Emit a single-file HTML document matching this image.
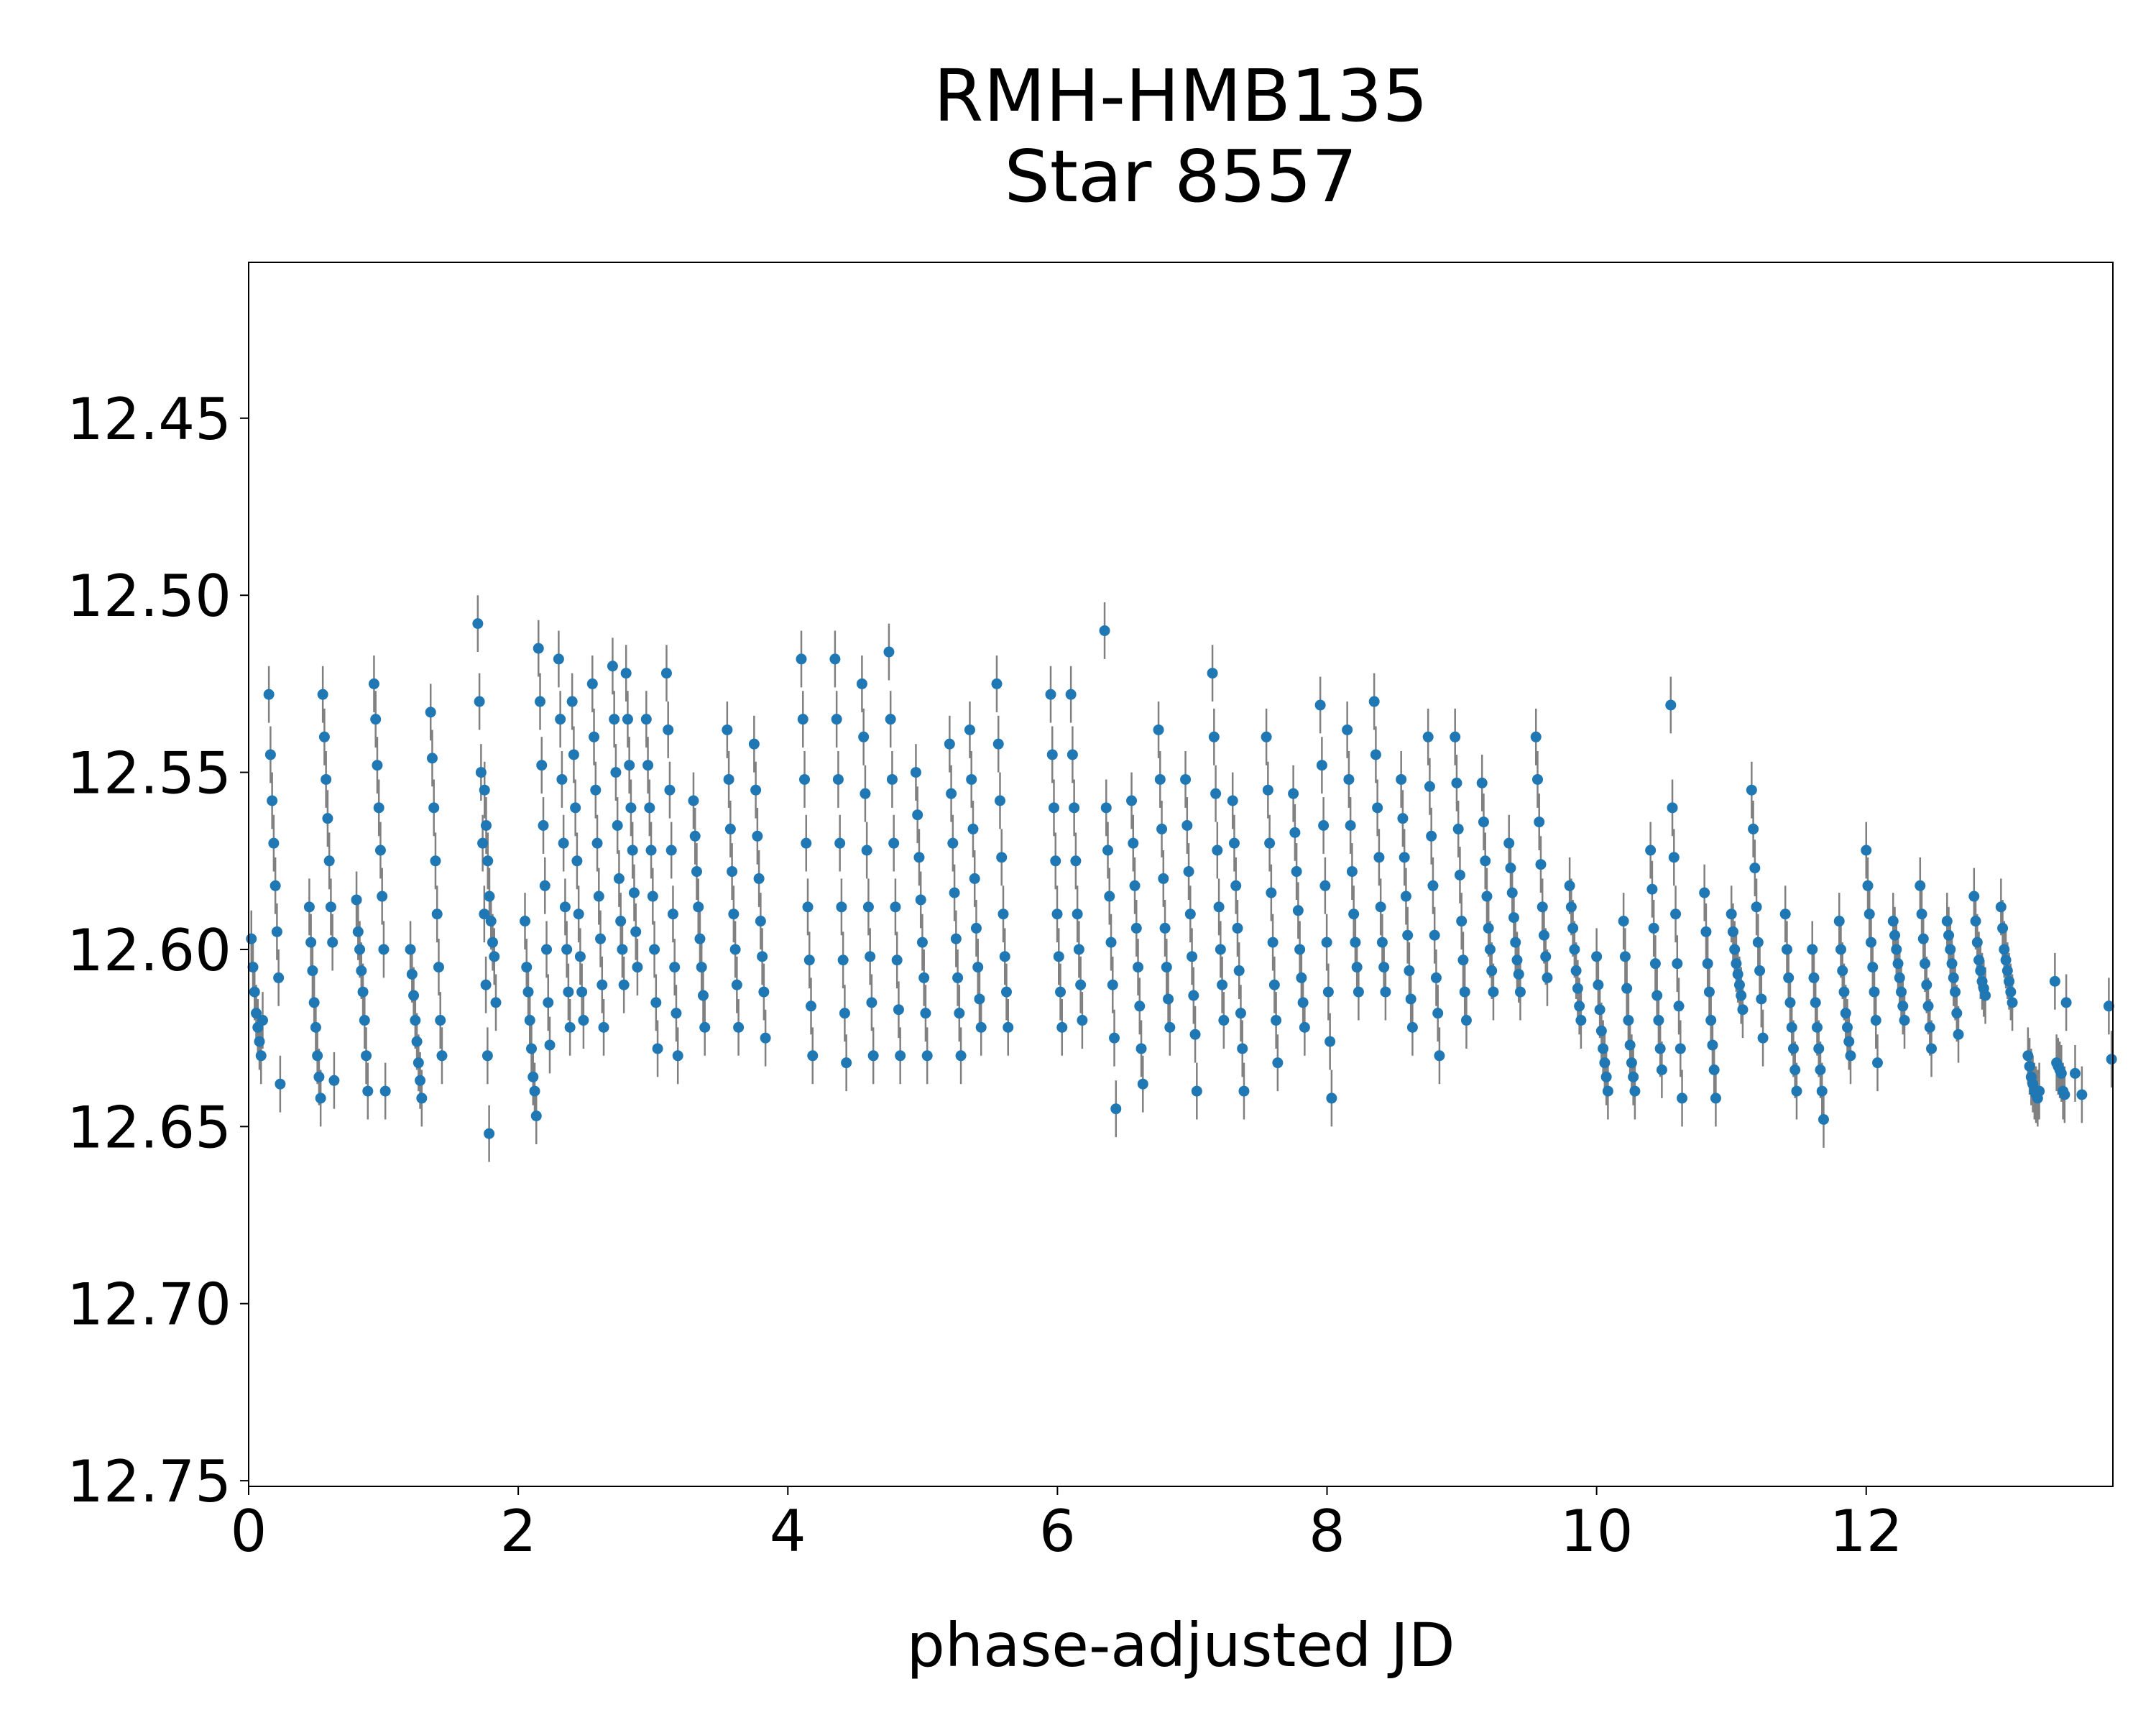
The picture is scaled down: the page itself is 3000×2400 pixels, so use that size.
<!DOCTYPE html>
<html><head><meta charset="utf-8"><style>
html,body{margin:0;padding:0;background:#fff;}
svg{display:block;font-family:"DejaVu Sans","Liberation Sans",sans-serif;}
</style></head><body>
<svg id="chart" width="3000" height="2400" viewBox="0 0 3000 2400">
<text x="1643" y="168" font-size="100" text-anchor="middle">RMH-HMB135</text>
<text x="1643" y="280" font-size="100" text-anchor="middle">Star 8557</text>
<g id="marks"></g>
<rect x="346" y="365" width="2594" height="1703" fill="none" stroke="#000" stroke-width="2"/>
<g id="xticks"></g>
<g id="yticks"></g>
<text x="1643" y="2318" font-size="84" text-anchor="middle">phase-adjusted JD</text>
</svg>
<script>
const xTicks=[0,2,4,6,8,10,12];
const yTicks=[12.45,12.50,12.55,12.60,12.65,12.70,12.75];
const yTickLabels=["12.45","12.50","12.55","12.60","12.65","12.70","12.75"];
const streakX=[0.02,0.15,0.45,0.55,0.8,0.93,1.2,1.35,1.7,1.75,2.05,2.15,2.3,2.4,2.55,2.7,2.8,2.95,3.1,3.3,3.55,3.75,4.1,4.35,4.55,4.75,4.95,5.2,5.35,5.55,5.95,6.1,6.35,6.55,6.75,6.95,7.15,7.3,7.55,7.75,7.95,8.15,8.35,8.55,8.75,8.95,9.15,9.35,9.55,9.8,10.0,10.2,10.4,10.55,10.8,11.0,11.15,11.4,11.6,11.8,12.0,12.2,12.4,12.6,12.8,13.0,13.2,13.4];
const streakMags=[
[12.597,12.605,12.612,12.618,12.622,12.626,12.630,12.62],
[12.528,12.545,12.558,12.570,12.582,12.595,12.608,12.638],
[12.588,12.598,12.606,12.615,12.622,12.630,12.636,12.642],
[12.528,12.540,12.552,12.563,12.575,12.588,12.598,12.637],
[12.586,12.595,12.600,12.606,12.612,12.620,12.630,12.640],
[12.525,12.535,12.548,12.560,12.572,12.585,12.600,12.640],
[12.600,12.607,12.613,12.620,12.626,12.632,12.637,12.642],
[12.533,12.546,12.560,12.575,12.590,12.605,12.620,12.630],
[12.508,12.530,12.550,12.570,12.590,12.610,12.630,12.652],
[12.555,12.565,12.575,12.585,12.592,12.598,12.602,12.615],
[12.592,12.605,12.612,12.620,12.628,12.636,12.640,12.647],
[12.515,12.530,12.548,12.565,12.582,12.600,12.615,12.627],
[12.518,12.535,12.552,12.570,12.588,12.600,12.612,12.622],
[12.530,12.545,12.560,12.575,12.590,12.602,12.612,12.620],
[12.525,12.540,12.555,12.570,12.585,12.597,12.610,12.622],
[12.520,12.535,12.550,12.565,12.580,12.592,12.600,12.610],
[12.522,12.535,12.548,12.560,12.572,12.584,12.595,12.605],
[12.535,12.548,12.560,12.572,12.585,12.600,12.615,12.628],
[12.522,12.538,12.555,12.572,12.590,12.605,12.618,12.630],
[12.558,12.568,12.578,12.588,12.597,12.605,12.613,12.622],
[12.538,12.552,12.566,12.578,12.590,12.600,12.610,12.622],
[12.542,12.555,12.568,12.580,12.592,12.602,12.612,12.625],
[12.518,12.535,12.552,12.570,12.588,12.603,12.616,12.630],
[12.518,12.535,12.552,12.570,12.588,12.603,12.618,12.632],
[12.525,12.540,12.556,12.572,12.588,12.602,12.615,12.630],
[12.516,12.535,12.552,12.570,12.588,12.603,12.617,12.630],
[12.550,12.562,12.574,12.586,12.598,12.608,12.618,12.630],
[12.542,12.556,12.570,12.584,12.597,12.608,12.618,12.630],
[12.538,12.552,12.566,12.580,12.594,12.605,12.614,12.622],
[12.525,12.542,12.558,12.574,12.590,12.602,12.612,12.622],
[12.528,12.545,12.560,12.575,12.590,12.602,12.612,12.622],
[12.528,12.545,12.560,12.575,12.590,12.600,12.610,12.620],
[12.510,12.560,12.572,12.585,12.598,12.610,12.625,12.645],
[12.558,12.570,12.582,12.594,12.605,12.616,12.628,12.638],
[12.538,12.552,12.566,12.580,12.594,12.605,12.614,12.622],
[12.552,12.565,12.578,12.590,12.602,12.613,12.624,12.640],
[12.522,12.540,12.556,12.572,12.588,12.600,12.610,12.620],
[12.558,12.570,12.582,12.594,12.606,12.618,12.628,12.640],
[12.540,12.555,12.570,12.584,12.598,12.610,12.620,12.632],
[12.556,12.567,12.578,12.589,12.600,12.608,12.615,12.622],
[12.531,12.548,12.565,12.582,12.598,12.612,12.626,12.642],
[12.538,12.552,12.565,12.578,12.590,12.598,12.605,12.612],
[12.530,12.545,12.560,12.574,12.588,12.598,12.605,12.612],
[12.552,12.563,12.574,12.585,12.596,12.606,12.614,12.622],
[12.540,12.554,12.568,12.582,12.596,12.608,12.618,12.630],
[12.540,12.553,12.566,12.579,12.592,12.603,12.612,12.620],
[12.553,12.564,12.575,12.585,12.594,12.600,12.606,12.612],
[12.570,12.577,12.584,12.591,12.598,12.603,12.607,12.612],
[12.540,12.552,12.564,12.576,12.588,12.596,12.602,12.608],
[12.582,12.588,12.594,12.600,12.606,12.611,12.616,12.620],
[12.602,12.610,12.617,12.623,12.628,12.632,12.636,12.640],
[12.592,12.602,12.611,12.620,12.627,12.632,12.636,12.640],
[12.572,12.583,12.594,12.604,12.613,12.620,12.628,12.634],
[12.531,12.560,12.574,12.590,12.604,12.616,12.628,12.642],
[12.584,12.595,12.604,12.612,12.620,12.627,12.634,12.642],
[12.590,12.595,12.600,12.604,12.607,12.610,12.613,12.617],
[12.555,12.566,12.577,12.588,12.598,12.606,12.614,12.625],
[12.590,12.600,12.608,12.615,12.622,12.628,12.634,12.640],
[12.600,12.608,12.615,12.622,12.628,12.634,12.640,12.648],
[12.592,12.600,12.606,12.612,12.618,12.622,12.626,12.630],
[12.572,12.582,12.590,12.598,12.605,12.612,12.620,12.632],
[12.592,12.596,12.600,12.604,12.608,12.612,12.616,12.620],
[12.582,12.590,12.597,12.604,12.610,12.616,12.622,12.628],
[12.592,12.596,12.600,12.604,12.608,12.612,12.618,12.624],
[12.585,12.592,12.598,12.603,12.606,12.609,12.611,12.613],
[12.588,12.594,12.600,12.603,12.606,12.609,12.612,12.615],
[12.630,12.633,12.636,12.638,12.640,12.641,12.642,12.640],
[12.609,12.632,12.633,12.634,12.635,12.640,12.641,12.615]
];
const extraX=[13.55,13.6,13.8,13.82];
const extraMag=[12.635,12.641,12.616,12.631];
const errMag=0.008;

const L=346,R=2940,T=365,B=2068,XMAX=13.83,YMIN=12.406,YMAX=12.7516;
function xs(v){return L+(v/XMAX)*(R-L);}
function ys(v){return T+(v-YMIN)/(YMAX-YMIN)*(B-T);}
const NS="http://www.w3.org/2000/svg";
const marks=document.getElementById('marks');
const pts=[];
streakX.forEach((x0,i)=>{streakMags[i].forEach((m,j)=>{pts.push([x0+j*0.012,m]);});});
extraX.forEach((x,i)=>pts.push([x,extraMag[i]]));
pts.forEach(p=>{
  const ln=document.createElementNS(NS,'line');
  ln.setAttribute('x1',xs(p[0]));ln.setAttribute('x2',xs(p[0]));
  ln.setAttribute('y1',ys(p[1]-errMag));ln.setAttribute('y2',ys(p[1]+errMag));
  ln.setAttribute('stroke','#808080');ln.setAttribute('stroke-width','2.5');
  
  
  marks.appendChild(ln);
});
pts.forEach(p=>{
  const c=document.createElementNS(NS,'circle');
  c.setAttribute('cx',xs(p[0]));c.setAttribute('cy',ys(p[1]));c.setAttribute('r','7.5');
  c.setAttribute('fill','#1f77b4');
  
  
  marks.appendChild(c);
});
const xg=document.getElementById('xticks');
xTicks.forEach(v=>{
  const t=document.createElementNS(NS,'line');
  t.setAttribute('x1',xs(v));t.setAttribute('x2',xs(v));t.setAttribute('y1',B);t.setAttribute('y2',B+12);
  t.setAttribute('stroke','#000');t.setAttribute('stroke-width','2');
  
  
  xg.appendChild(t);
  const tx=document.createElementNS(NS,'text');
  tx.setAttribute('x',xs(v));tx.setAttribute('y',B+90);tx.setAttribute('font-size','80');tx.setAttribute('text-anchor','middle');
  tx.textContent=String(v);
  
  
  xg.appendChild(tx);
});
const yg=document.getElementById('yticks');
yTicks.forEach((v,i)=>{
  const t=document.createElementNS(NS,'line');
  t.setAttribute('x1',L-12);t.setAttribute('x2',L);t.setAttribute('y1',ys(v));t.setAttribute('y2',ys(v));
  t.setAttribute('stroke','#000');t.setAttribute('stroke-width','2');
  
  
  yg.appendChild(t);
  const tx=document.createElementNS(NS,'text');
  tx.setAttribute('x',L-24);tx.setAttribute('y',ys(v)+29);tx.setAttribute('font-size','80');tx.setAttribute('text-anchor','end');
  tx.textContent=yTickLabels[i];
  
  
  yg.appendChild(tx);
});
</script>
</body></html>
